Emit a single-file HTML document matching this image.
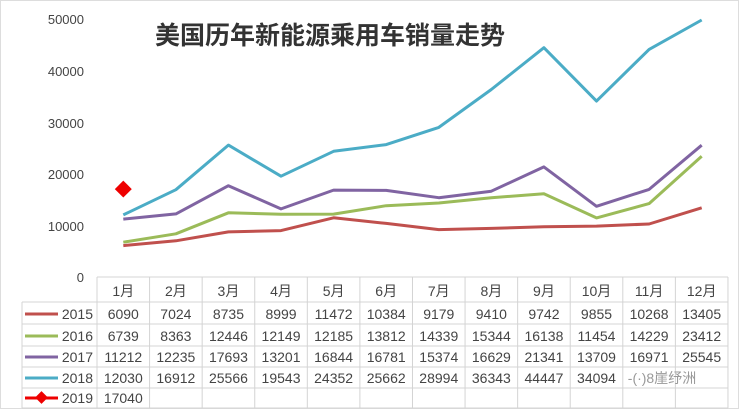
<!DOCTYPE html><html><head><meta charset="utf-8"><style>
body{margin:0;background:#fff;width:744px;height:410px;overflow:hidden}
svg text{font-family:"Liberation Sans","Noto Sans CJK SC",sans-serif;fill:#444}
</style></head><body>
<svg width="744" height="410" viewBox="0 0 744 410">
<rect x="0.5" y="0.5" width="738" height="408" fill="none" stroke="#ddd"/>
<g font-size="13" text-anchor="end">
<text x="84" y="24">50000</text><text x="84" y="76">40000</text><text x="84" y="128">30000</text>
<text x="84" y="179">20000</text><text x="84" y="231">10000</text><text x="84" y="282">0</text>
</g>
<text x="155" y="44" font-size="25" font-weight="bold" style="fill:#333">美国历年新能源乘用车销量走势</text>
<g id="lines" fill="none" stroke-width="3" stroke-linejoin="round"></g>
<g id="tbl"></g>
</svg>
<script>
const x0=97,cw=52.58,Y=v=>277-v*258/50000;
const data=[
["2015","#c0504d",[6090,7024,8735,8999,11472,10384,9179,9410,9742,9855,10268,13405]],
["2016","#9bbb59",[6739,8363,12446,12149,12185,13812,14339,15344,16138,11454,14229,23412]],
["2017","#8064a2",[11212,12235,17693,13201,16844,16781,15374,16629,21341,13709,16971,25545]],
["2018","#4bacc6",[12030,16912,25566,19543,24352,25662,28994,36343,44447,34094,44100,49800]]];
let L='',T='';
data.forEach(d=>{L+=`<polyline stroke="${d[1]}" points="${d[2].map((v,i)=>(x0+cw*(i+.5)).toFixed(1)+','+Y(v).toFixed(1)).join(' ')}"/>`});
const cx=x0+cw*.5,cy=Y(17040);
L+=`<rect x="${cx-6}" y="${cy-6}" width="12" height="12" fill="#e00" transform="rotate(45 ${cx} ${cy})"/>`;
document.getElementById('lines').innerHTML=L;
const rows=[277,302,324,346,367,388,408];
const g='#d4d4d4';
T+=`<line x1="${x0}" y1="277" x2="${x0+12*cw}" y2="277" stroke="${g}"/>`;
for(let r=1;r<rows.length;r++)T+=`<line x1="22" y1="${rows[r]}" x2="${x0+12*cw}" y2="${rows[r]}" stroke="${g}"/>`;
T+=`<line x1="22" y1="302" x2="22" y2="408" stroke="${g}"/>`;
for(let i=0;i<=12;i++)T+=`<line x1="${x0+cw*i}" y1="277" x2="${x0+cw*i}" y2="408" stroke="${g}"/>`;
for(let i=0;i<12;i++)T+=`<text x="${x0+cw*(i+.5)}" y="296" font-size="14" text-anchor="middle">${i+1}月</text>`;
const names=data.map(d=>d[0]).concat(["2019"]),cols=data.map(d=>d[1]).concat(["#e00"]);
for(let r=0;r<5;r++){const yb=rows[r+2]-5;
T+=`<line x1="25" y1="${yb-5}" x2="58" y2="${yb-5}" stroke="${cols[r]}" stroke-width="3"/>`;
if(r==4)T+=`<rect x="37" y="${yb-10}" width="9" height="9" fill="#e00" transform="rotate(45 41.5 ${yb-5.5})"/>`;
T+=`<text x="93" y="${yb}" font-size="14" text-anchor="end">${names[r]}</text>`;
if(r<4){data[r][2].forEach((v,i)=>{if(r==3&&i>=10)return;T+=`<text x="${x0+cw*(i+.5)}" y="${yb}" font-size="14" text-anchor="middle">${v}</text>`;});}
else T+=`<text x="${x0+cw*.5}" y="${yb}" font-size="14" text-anchor="middle">17040</text>`;}
T+=`<text x="662" y="383" font-size="14" text-anchor="middle" style="fill:#999">-(·)8崖纾洲</text>`;
document.getElementById('tbl').innerHTML=T;
</script>
</body></html>
